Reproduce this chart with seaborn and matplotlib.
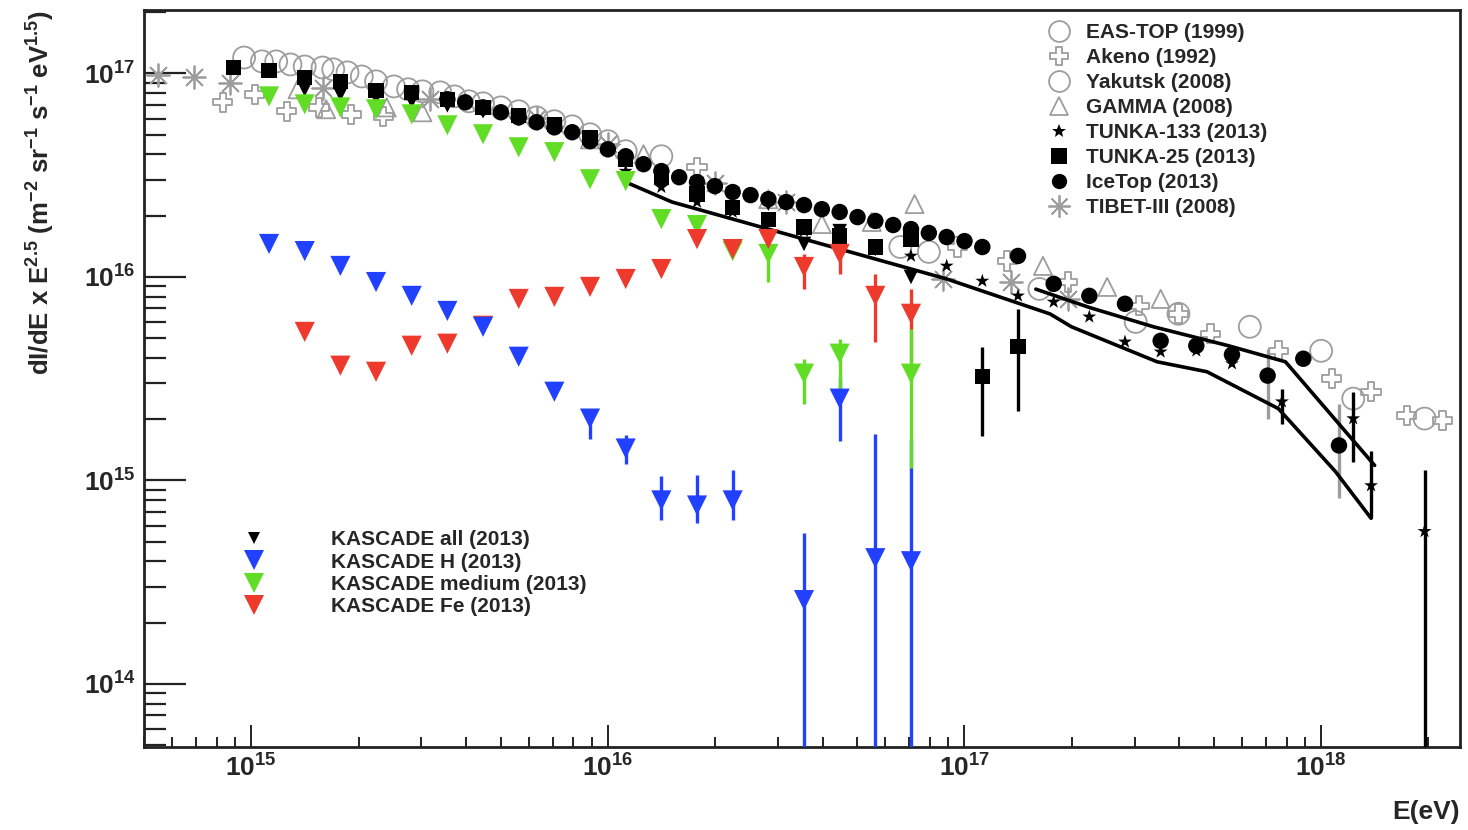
import matplotlib
matplotlib.use("Agg")
import matplotlib.pyplot as plt
from matplotlib.lines import Line2D
from matplotlib.ticker import LogLocator, FuncFormatter, NullFormatter
import seaborn as sns
import numpy as np
import pandas as pd

# values: log10(E / eV) and log10(dI/dE x E^2.5)
kas_lge = [15.05, 15.15, 15.25, 15.35, 15.45, 15.55, 15.65, 15.75, 15.85,
           15.95, 16.05, 16.15, 16.25, 16.35, 16.45, 16.55, 16.65, 16.75, 16.85]

kas_h_lge = kas_lge[:14] + [16.55, 16.65, 16.75, 16.85]
kas_h_lgj = [16.162, 16.127, 16.054, 15.975, 15.907, 15.833, 15.755, 15.608, 15.436,
             15.304, 15.157, 14.902, 14.877, 14.902, 14.412, 15.402, 14.618, 14.603]
kas_h_bar_lge = [15.95, 16.05, 16.15, 16.25, 16.35, 16.55, 16.65, 16.75, 16.85]
kas_h_bar_lo = [15.206, 15.083, 14.804, 14.789, 14.804, 13.0, 15.196, 13.0, 13.0]
kas_h_bar_hi = [15.353, 15.221, 15.020, 15.025, 15.049, 14.740, 15.510, 15.230, 15.206]

kas_fe_lge = kas_lge[1:]
kas_fe_lgj = [15.730, 15.564, 15.534, 15.662, 15.672, 15.760, 15.892, 15.902, 15.951,
              15.990, 16.039, 16.186, 16.137, 16.186, 16.049, 16.113, 15.907, 15.819]
kas_fe_bar_lge = [16.55, 16.65, 16.75, 16.85]
kas_fe_bar_lo = [15.941, 16.015, 15.681, 15.583]
kas_fe_bar_hi = [16.113, 16.162, 16.015, 15.941]

kas_med_lge = kas_lge[:15] + [16.55, 16.65, 16.85]
kas_med_lgj = [16.887, 16.848, 16.833, 16.824, 16.799, 16.745, 16.701, 16.637, 16.613,
               16.480, 16.471, 16.284, 16.255, 16.127, 16.113, 15.525, 15.623, 15.525]
kas_med_bar_lge = [16.45, 16.55, 16.65, 16.85]
kas_med_bar_lo = [15.975, 15.377, 15.402, 15.059]
kas_med_bar_hi = [16.162, 15.598, 15.696, 15.745]

kas_all_lge = kas_lge[1:]
kas_all_lgj = [16.922, 16.897, 16.882, 16.863, 16.843, 16.814, 16.775, 16.735, 16.676,
               16.578, 16.505, 16.456, 16.407, 16.360, 16.162, 16.225, 16.137, 16.000]

eastop_lge = [14.98, 15.03, 15.07, 15.11, 15.15, 15.20, 15.23, 15.27, 15.31, 15.35, 15.40,
              15.44, 15.48, 15.53, 15.57, 15.61, 15.65, 15.70, 15.75, 15.80, 15.85, 15.90,
              15.95, 16.00, 16.05, 16.15]
eastop_lgj = [17.078, 17.059, 17.059, 17.044, 17.034, 17.029, 17.020, 17.005, 16.985, 16.961,
              16.936, 16.922, 16.912, 16.907, 16.887, 16.863, 16.853, 16.833, 16.814, 16.784,
              16.765, 16.740, 16.701, 16.667, 16.618, 16.593]

akeno_lge = [14.92, 15.01, 15.10, 15.19, 15.28, 15.37, 16.25, 16.98, 17.12, 17.29, 17.49,
             17.60, 17.69, 17.88, 18.03, 18.14, 18.24, 18.34]
akeno_lgj = [16.858, 16.897, 16.814, 16.833, 16.799, 16.789, 16.539, 16.147, 16.078, 15.975,
             15.858, 15.819, 15.721, 15.637, 15.500, 15.436, 15.319, 15.294]

yakutsk_lge = [16.82, 16.90, 17.21, 17.48, 17.60, 17.80, 18.00, 18.09, 18.29]
yakutsk_lgj = [16.147, 16.123, 15.941, 15.779, 15.819, 15.755, 15.637, 15.402, 15.304]

gamma_lge = [15.13, 15.21, 15.38, 15.48, 15.95, 16.10, 16.45, 16.60, 16.74, 16.86, 17.22,
             17.40, 17.55]
gamma_lgj = [16.922, 16.824, 16.833, 16.809, 16.676, 16.603, 16.382, 16.260, 16.270, 16.358,
             16.054, 15.951, 15.892]

tibet_lge = [14.74, 14.84, 14.94, 15.20, 15.50, 15.80, 16.00, 16.30, 16.50, 16.94, 17.13, 17.29]
tibet_lgj = [16.990, 16.980, 16.951, 16.930, 16.873, 16.780, 16.652, 16.460, 16.368, 15.990,
             15.975, 15.892]

tunka133_lge = [16.05, 16.15, 16.25, 16.35, 16.45, 16.55, 16.65, 16.75, 16.85, 16.95, 17.05,
                17.15, 17.25, 17.35, 17.45, 17.55, 17.65, 17.75, 17.89, 18.09, 18.14, 18.29]
tunka133_lgj = [16.520, 16.441, 16.368, 16.319, 16.284, 16.225, 16.186, 16.137, 16.103, 16.054,
                15.980, 15.907, 15.877, 15.804, 15.681, 15.632, 15.637, 15.574, 15.387, 15.304,
                14.975, 14.750]
tunka133_bar_lge = [17.89, 18.09, 18.14, 18.29]
tunka133_bar_lo = [15.279, 15.093, 14.814, 13.0]
tunka133_bar_hi = [15.451, 15.436, 15.147, 15.049]

tunka25_lge = [14.95, 15.05, 15.15, 15.25, 15.35, 15.45, 15.55, 15.65, 15.75, 15.85, 15.95,
               16.05, 16.15, 16.25, 16.35, 16.45, 16.55, 16.65, 16.75, 16.85, 17.05, 17.15]
tunka25_lgj = [17.029, 17.015, 16.980, 16.961, 16.917, 16.907, 16.873, 16.833, 16.794, 16.750,
               16.686, 16.578, 16.490, 16.407, 16.343, 16.284, 16.245, 16.201, 16.147, 16.186,
               15.510, 15.657]
tunka25_bar_lge = [17.05, 17.15]
tunka25_bar_lo = [15.216, 15.343]
tunka25_bar_hi = [15.657, 15.843]

icetop_lge = [15.55, 15.60, 15.65, 15.70, 15.75, 15.80, 15.85, 15.90, 15.95, 16.00, 16.05,
              16.10, 16.15, 16.20, 16.25, 16.30, 16.35, 16.40, 16.45, 16.50, 16.55, 16.60,
              16.65, 16.70, 16.75, 16.80, 16.85, 16.90, 16.95, 17.00, 17.05,
              17.15, 17.25, 17.35, 17.45, 17.55, 17.65, 17.75, 17.85, 17.95, 18.05]
icetop_lgj = [16.873, 16.858, 16.833, 16.809, 16.784, 16.760, 16.735, 16.711, 16.667, 16.627,
              16.593, 16.554, 16.520, 16.490, 16.466, 16.446, 16.417, 16.402, 16.382, 16.368,
              16.353, 16.333, 16.319, 16.294, 16.275, 16.255, 16.235, 16.216, 16.196, 16.176,
              16.147, 16.103, 15.966, 15.907, 15.868, 15.686, 15.662, 15.618, 15.515, 15.598,
              15.172]
icetop_bar_lge = [17.85, 18.05]
icetop_bar_lo = [15.304, 14.912]
icetop_bar_hi = [15.647, 15.377]

band_low_lge = [16.05, 16.18, 16.45, 16.95, 17.24, 17.30, 17.54, 17.68, 17.88, 18.04, 18.14]
band_low_lgj = [16.466, 16.368, 16.235, 15.990, 15.818, 15.755, 15.583, 15.534, 15.353,
                15.044, 14.814]
band_up_lge = [17.20, 17.35, 17.53, 17.74, 17.90, 18.15]
band_up_lgj = [15.940, 15.850, 15.755, 15.662, 15.583, 15.074]

GREY = "#9d9d9d"
BLUE = "#2140ff"
GREEN = "#62dd26"
RED = "#ee3a2c"
INK = "#222222"

sns.set_style("white")
plt.rcParams["font.family"] = ["Liberation Sans", "DejaVu Sans"]
plt.rcParams["font.weight"] = "bold"
plt.rcParams["mathtext.fontset"] = "custom"
plt.rcParams["mathtext.rm"] = "Liberation Sans:bold"
plt.rcParams["mathtext.it"] = "Liberation Sans:bold"
plt.rcParams["mathtext.bf"] = "Liberation Sans:bold"
plt.rcParams["mathtext.default"] = "rm"

fig = plt.figure(figsize=(14.68, 8.30), dpi=100)
ax = fig.add_axes([0.098, 0.1, 0.8965, 0.888])
ax.set_xscale("log")
ax.set_yscale("log")


def frame(lge, lgj):
    return pd.DataFrame({"E": np.power(10.0, lge), "J": np.power(10.0, lgj)})


def dots(lge, lgj, **kw):
    sns.scatterplot(data=frame(lge, lgj), x="E", y="J", ax=ax, legend=False, **kw)


def bars(lge, lo, hi, color, lw=2.4, z=3):
    ax.vlines(np.power(10.0, lge), np.power(10.0, lo), np.power(10.0, hi),
              colors=color, linewidth=lw, zorder=z)


# grey open markers (older experiments)
hollow = dict(facecolors="none", edgecolor=GREY, linewidth=1.3, zorder=2)
dots(eastop_lge, eastop_lgj, marker="o", s=250, **hollow)
dots(yakutsk_lge, yakutsk_lgj, marker="o", s=250, **hollow)
dots(akeno_lge, akeno_lgj, marker="P", s=190, **hollow)
dots(gamma_lge, gamma_lgj, marker="^", s=170, **hollow)
dots(tibet_lge, tibet_lgj, marker=(8, 2, 0), s=260, color=GREY, linewidth=1.3, zorder=2)
bars(icetop_bar_lge, icetop_bar_lo, icetop_bar_hi, GREY, z=2)

# band
for lge, lgj in [(band_low_lge, band_low_lgj), (band_up_lge, band_up_lgj)]:
    d = frame(lge, lgj)
    sns.lineplot(data=d, x="E", y="J", sort=False, estimator=None, color="black",
                 linewidth=2.6, ax=ax, zorder=3)

# black markers
bars(tunka25_bar_lge, tunka25_bar_lo, tunka25_bar_hi, "black")
bars(tunka133_bar_lge, tunka133_bar_lo, tunka133_bar_hi, "black")
dots(tunka25_lge, tunka25_lgj, marker="s", s=120, color="black", edgecolor="none", zorder=4)
dots(icetop_lge, icetop_lgj, marker="o", s=140, color="black", edgecolor="none", zorder=4)
dots(tunka133_lge, tunka133_lgj, marker="*", s=110, color="black", edgecolor="none", zorder=4)
dots(kas_all_lge, kas_all_lgj, marker="v", s=110, color="black", edgecolor="none", zorder=4)

# KASCADE mass groups
bars(kas_h_bar_lge, kas_h_bar_lo, kas_h_bar_hi, BLUE, z=5)
bars(kas_fe_bar_lge, kas_fe_bar_lo, kas_fe_bar_hi, RED, z=5)
bars(kas_med_bar_lge, kas_med_bar_lo, kas_med_bar_hi, GREEN, z=5)
dots(kas_med_lge, kas_med_lgj, marker="v", s=210, color=GREEN, edgecolor="none", zorder=5)
dots(kas_fe_lge, kas_fe_lgj, marker="v", s=210, color=RED, edgecolor="none", zorder=5)
dots(kas_h_lge, kas_h_lgj, marker="v", s=210, color=BLUE, edgecolor="none", zorder=5)

ax.set_xlim(5e14, 2.45e18)
ax.set_ylim(4.9e13, 2.05e17)

ax.xaxis.set_major_locator(LogLocator(base=10, numticks=10))
ax.xaxis.set_minor_locator(LogLocator(base=10, subs=np.arange(2, 10), numticks=50))
ax.yaxis.set_major_locator(LogLocator(base=10, numticks=10))
ax.yaxis.set_minor_locator(LogLocator(base=10, subs=np.arange(2, 10), numticks=50))
pow_fmt = FuncFormatter(lambda v, p: r"$\mathbf{10^{%d}}$" % round(np.log10(v)))
ax.xaxis.set_major_formatter(pow_fmt)
ax.yaxis.set_major_formatter(pow_fmt)
ax.xaxis.set_minor_formatter(NullFormatter())
ax.yaxis.set_minor_formatter(NullFormatter())

ax.tick_params(axis="y", which="major", direction="in", length=30, width=1.6,
               labelsize=19, pad=6, left=True, right=False, color=INK)
ax.tick_params(axis="y", which="minor", direction="in", length=16, width=1.6,
               left=True, right=False, color=INK)
ax.tick_params(axis="x", which="major", direction="in", length=16, width=1.4,
               labelsize=19, pad=5, bottom=True, top=False, color=INK)
ax.tick_params(axis="x", which="minor", direction="in", length=7, width=1.4,
               bottom=True, top=False, color=INK)
for side in ["left", "bottom", "top", "right"]:
    ax.spines[side].set_visible(True)
    ax.spines[side].set_color(INK)
    ax.spines[side].set_linewidth(2.0)

ax.set_ylabel(r"dI/dE x E$^{2.5}$ (m$^{-2}$ sr$^{-1}$ s$^{-1}$ eV$^{1.5}$)",
              fontsize=18.5, fontweight="bold", loc="top")
ax.yaxis.set_label_coords(-0.066, 1.0)
ax.set_xlabel("E(eV)", fontsize=19, fontweight="bold", loc="right")
ax.xaxis.set_label_coords(1.0, -0.072)

leg_font = dict(family="Liberation Sans", weight="bold", size=15)


def handle(marker, ms, face, edge, mew=1.3):
    return Line2D([], [], linestyle="none", marker=marker, markersize=ms,
                  markerfacecolor=face, markeredgecolor=edge, markeredgewidth=mew)


upper = [
    (handle("o", 15, "none", GREY), "EAS-TOP (1999)"),
    (handle("P", 13, "none", GREY), "Akeno (1992)"),
    (handle("o", 15, "none", GREY), "Yakutsk (2008)"),
    (handle("^", 13, "none", GREY), "GAMMA (2008)"),
    (handle("*", 10, "black", "black", 0), "TUNKA-133 (2013)"),
    (handle("s", 11, "black", "black", 0), "TUNKA-25 (2013)"),
    (handle("o", 11, "black", "black", 0), "IceTop (2013)"),
    (handle((8, 2, 0), 16, GREY, GREY), "TIBET-III (2008)"),
]
leg1 = ax.legend([h for h, _ in upper], [t for _, t in upper], loc="upper left",
                 bbox_to_anchor=(0.676, 1.0015), frameon=False, prop=leg_font,
                 handlelength=1.0, handletextpad=0.8, labelspacing=0.285,
                 borderpad=0.2)
ax.add_artist(leg1)

lower = [
    (handle("v", 9, "black", "black", 0), "KASCADE all (2013)"),
    (handle("v", 14, BLUE, BLUE, 0), "KASCADE H (2013)"),
    (handle("v", 14, GREEN, GREEN, 0), "KASCADE medium (2013)"),
    (handle("v", 14, RED, RED, 0), "KASCADE Fe (2013)"),
]
ax.legend([h for h, _ in lower], [t for _, t in lower], loc="upper left",
          bbox_to_anchor=(0.041, 0.3136), frameon=False, prop=leg_font,
          handlelength=4.0, handletextpad=1.7, labelspacing=0.16, borderpad=0.2)

fig.savefig("out.png", dpi=100)
